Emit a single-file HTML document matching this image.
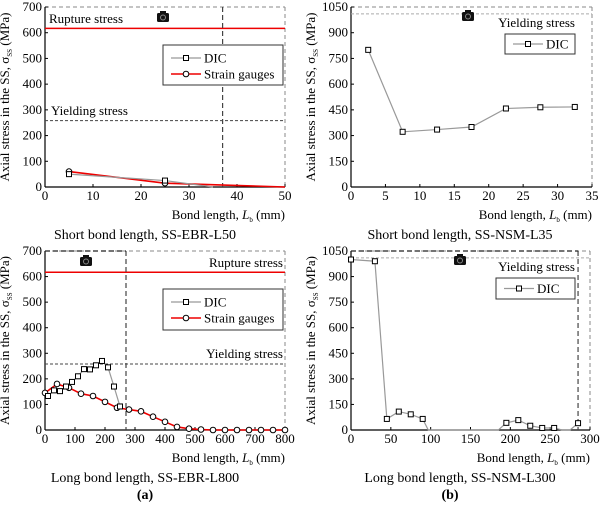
<!DOCTYPE html>
<html><head><meta charset="utf-8"><style>
body{margin:0;background:#fff}
svg{display:block;font-family:"Liberation Serif",serif}
</style></head><body>
<svg id="c" width="600" height="508" viewBox="0 0 600 508" xmlns="http://www.w3.org/2000/svg"></svg>
<script>
// Panel 1: SS-EBR-L50
const p1DicX=[5,25,35];
const p1DicY=[50,25,0];
const p1SgX=[5,25,50];
const p1SgY=[60,15,0];
const p1XTicks=[0,10,20,30,40,50];
const p1YTicks=[0,100,200,300,400,500,600,700];
// Panel 2: SS-NSM-L35
const p2DicX=[2.5,7.5,12.5,17.5,22.5,27.5,32.5];
const p2DicY=[800,322,335,350,458,465,467];
const p2XTicks=[0,5,10,15,20,25,30,35];
const p2YTicks=[0,150,300,450,600,750,900,1050];
// Panel 3: SS-EBR-L800
const p3DicX=[10,30,50,70,90,110,130,150,170,190,210,230,250];
const p3DicY=[133,155,152,170,188,210,238,237,253,270,245,170,92];
const p3SgX=[0,40,80,120,160,200,240,280,320,360,400,440,480,520,560,600,640,680,720,760,800];
const p3SgY=[145,180,165,142,133,110,87,80,73,52,32,12,5,2,0,0,0,0,0,0,0];
const p3XTicks=[0,100,200,300,400,500,600,700,800];
const p3YTicks=[0,100,200,300,400,500,600,700];
// Panel 4: SS-NSM-L300
const p4DicX=[0,30,45,60,75,90,97,185,195,210,225,240,255,265,275,285];
const p4DicY=[1000,990,65,108,92,65,0,0,42,58,25,12,12,0,0,40];
const p4XTicks=[0,50,100,150,200,250,300];
const p4YTicks=[0,150,300,450,600,750,900,1050];

const S=document.getElementById('c');
const NS='http://www.w3.org/2000/svg';
function mk(tag,attrs,parent,text){const e=document.createElementNS(NS,tag);for(const k in attrs)e.setAttribute(k,attrs[k]);if(text!==undefined)e.textContent=text;(parent||S).appendChild(e);return e;}

function panel(o){
  const g=mk('g',{});
  
  
  const sx=v=>o.x0+(v-o.xmin)/(o.xmax-o.xmin)*(o.x1-o.x0);
  const sy=v=>o.y0-(v)/(o.ymax)*(o.y0-o.y1);
  mk('line',{x1:o.x0,y1:o.y1,x2:o.x1,y2:o.y1,stroke:'#888','stroke-dasharray':'4,3','stroke-width':1},g);
  mk('line',{x1:o.x1,y1:o.y1,x2:o.x1,y2:o.y0,stroke:'#888','stroke-dasharray':'4,3','stroke-width':1},g);
  const ax=mk('g',{},g);
  
  
  mk('line',{x1:o.x0,y1:o.y0,x2:o.x1,y2:o.y0,stroke:'#000','stroke-width':1.2},ax);
  mk('line',{x1:o.x0,y1:o.y0,x2:o.x0,y2:o.y1,stroke:'#000','stroke-width':1.2},ax);
  o.xt.forEach(t=>{const X=sx(t);mk('line',{x1:X,y1:o.y0,x2:X,y2:o.y0-3,stroke:'#000'},ax);
    const tl=mk('text',{x:X,y:o.y0+13,'font-size':13,'text-anchor':'middle'},ax,t);
    
    });
  o.yt.forEach(t=>{const Y=sy(t);mk('line',{x1:o.x0,y1:Y,x2:o.x0+3,y2:Y,stroke:'#000'},ax);
    const tl=mk('text',{x:o.x0-3,y:Y+4,'font-size':13,'text-anchor':'end'},ax,t);
    
    });
  const xt=mk('text',{x:o.x1,y:o.y0+32,'font-size':13,'text-anchor':'end'},g);
  
  
  xt.innerHTML='Bond length, <tspan font-style="italic">L</tspan><tspan font-size="7" dy="3">b</tspan><tspan dy="-3"> (mm)</tspan>';
  const yt=mk('text',{x:0,y:0,'font-size':13,'text-anchor':'middle',transform:`translate(${o.x0-36},${(o.y0+o.y1)/2}) rotate(-90)`},g);
  
  
  yt.innerHTML='Axial stress in the SS, σ<tspan font-size="7" dy="3">SS</tspan><tspan dy="-3"> (MPa)</tspan>';
  const cap=mk('text',{x:o.capX,y:o.y0+52,'font-size':14,'text-anchor':'middle'},g,o.caption);
  
  
  if(o.rupture!==undefined){const l=mk('line',{x1:o.x0,y1:sy(o.rupture),x2:o.x1,y2:sy(o.rupture),stroke:'#e00','stroke-width':1.5},g);
    
    
    const t=mk('text',{x:o.rupLx,y:o.rupLy,'font-size':13,'text-anchor':o.rupAnchor},g,'Rupture stress');
    
    }
  {const l=mk('line',{x1:o.x0,y1:sy(o.yield),x2:o.x1,y2:sy(o.yield),stroke:o.yieldCol,'stroke-dasharray':'3,2','stroke-width':1},g);
    
    
    const t=mk('text',{x:o.yLx,y:o.yLy,'font-size':13,'text-anchor':o.yAnchor},g,'Yielding stress');
    
    }
  if(o.vline!==undefined){const l=mk('line',{x1:sx(o.vline),y1:o.y1,x2:sx(o.vline),y2:o.y0,stroke:'#444','stroke-dasharray':'5,3','stroke-width':1.2},g);
    
    
    if(o.topDash){mk('line',{x1:o.x0,y1:o.y1,x2:sx(o.vline),y2:o.y1,stroke:'#222','stroke-dasharray':'5,3','stroke-width':1.2},g);}}
  const cam=mk('g',{},g);
  
  
  mk('rect',{x:o.camX-6,y:o.camY-4,width:12,height:9,rx:1.5,fill:'#111'},cam);
  mk('rect',{x:o.camX-3,y:o.camY-6,width:6,height:3,fill:'#111'},cam);
  mk('circle',{cx:o.camX,cy:o.camY+0.5,r:2.5,fill:'none',stroke:'#888','stroke-width':1},cam);
  function series(xs,ys,col,w,marker,name,skipZero){
    const sg=mk('g',{},g);
    
    
    mk('polyline',{points:xs.map((x,i)=>sx(x)+','+sy(ys[i])).join(' '),fill:'none',stroke:col,'stroke-width':w},sg);
    xs.forEach((x,i)=>{if(skipZero&&ys[i]===0)return;
      let m;
      if(marker==='sq')m=mk('rect',{x:sx(x)-2.5,y:sy(ys[i])-2.5,width:5,height:5,fill:'#fff',stroke:'#000','stroke-width':1},sg);
      else m=mk('circle',{cx:sx(x),cy:sy(ys[i]),r:2.8,fill:'#fff',stroke:'#000','stroke-width':1},sg);
      
      });
  }
  if(o.sgX)series(o.sgX,o.sgY,'#e00',1.6,'ci','strain-gauges-series',o.skipZeroSg);
  series(o.dicX,o.dicY,'#999',1.2,'sq','dic-series',o.skipZero);
  const L=o.leg;const lg=mk('g',{},g);
  
  
  mk('rect',{x:L[0],y:L[1],width:L[2],height:L[3],fill:'#fff',stroke:'#333','stroke-width':1},lg);
  const rows=o.sgX?2:1;
  for(let r=0;r<rows;r++){
    const yy=L[1]+(rows===1?L[3]/2:13+r*16);
    const e=mk('g',{},lg);
    
    
    mk('line',{x1:L[0]+8,y1:yy,x2:L[0]+38,y2:yy,stroke:r===0?'#999':'#e00','stroke-width':r===0?1.2:1.6},e);
    if(r===0)mk('rect',{x:L[0]+20.5,y:yy-2.5,width:5,height:5,fill:'#fff',stroke:'#000'},e);
    else mk('circle',{cx:L[0]+23,cy:yy,r:2.8,fill:'#fff',stroke:'#000'},e);
    mk('text',{x:L[0]+41,y:yy+4.5,'font-size':13},e,r===0?'DIC':'Strain gauges');
  }
}
panel({name:'panel-ss-ebr-l50',x0:45,x1:285,y0:187,y1:7,xmin:0,xmax:50,ymax:700,xt:p1XTicks,yt:p1YTicks,
  dicX:p1DicX,dicY:p1DicY,sgX:p1SgX,sgY:p1SgY,skipZero:true,skipZeroSg:true,rupture:617,rupLx:49,rupLy:23,rupAnchor:'start',
  yield:258,yieldCol:'#444',yLx:51,yLy:115,yAnchor:'start',vline:37,camX:163,camY:17,leg:[163,45,120,40],
  caption:'Short bond length, SS-EBR-L50',capX:145});
panel({name:'panel-ss-nsm-l35',x0:351,x1:592,y0:187,y1:7,xmin:0,xmax:35,ymax:1050,xt:p2XTicks,yt:p2YTicks,
  dicX:p2DicX,dicY:p2DicY,yield:1010,yieldCol:'#aaa',yLx:575,yLy:27,yAnchor:'end',camX:468,camY:16,leg:[505,34,70,20],
  caption:'Short bond length, SS-NSM-L35',capX:460});
panel({name:'panel-ss-ebr-l800',x0:45,x1:285,y0:430,y1:251,xmin:0,xmax:800,ymax:700,xt:p3XTicks,yt:p3YTicks,
  dicX:p3DicX,dicY:p3DicY,sgX:p3SgX,sgY:p3SgY,rupture:617,rupLx:283,rupLy:267,rupAnchor:'end',
  yield:258,yieldCol:'#444',yLx:283,yLy:358,yAnchor:'end',vline:270,topDash:true,camX:86,camY:261,leg:[163,289,120,41],
  caption:'Long bond length, SS-EBR-L800',capX:145});
panel({name:'panel-ss-nsm-l300',x0:351,x1:590,y0:430,y1:251,xmin:0,xmax:300,ymax:1050,xt:p4XTicks,yt:p4YTicks,
  dicX:p4DicX,dicY:p4DicY,yield:1010,yieldCol:'#aaa',yLx:575,yLy:271,yAnchor:'end',vline:285,topDash:true,skipZero:true,camX:460,camY:260,leg:[496,278,79,21],
  caption:'Long bond length, SS-NSM-L300',capX:460});
const a=mk('text',{x:145,y:499,'font-size':14,'font-weight':'bold','text-anchor':'middle'},S,'(a)');


const b=mk('text',{x:450,y:499,'font-size':14,'font-weight':'bold','text-anchor':'middle'},S,'(b)');


</script>
</body></html>
